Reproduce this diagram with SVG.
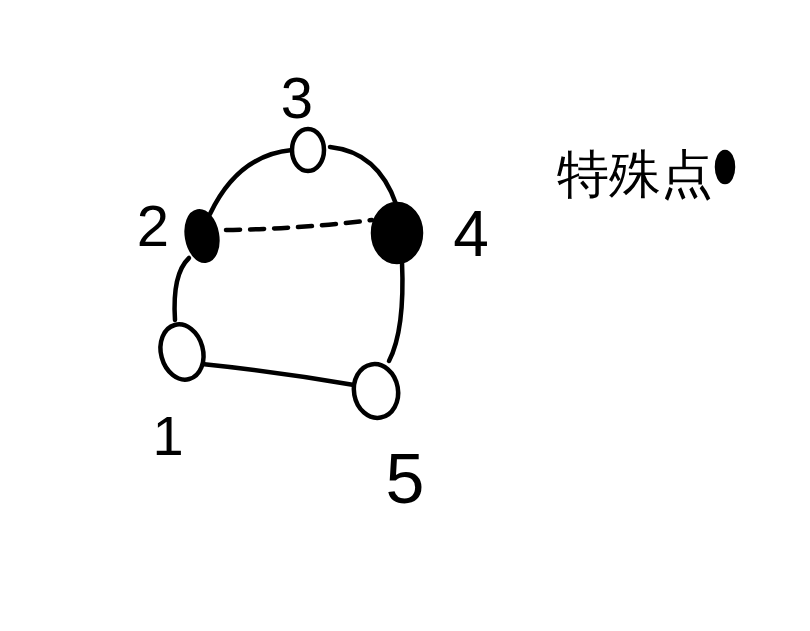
<svg xmlns="http://www.w3.org/2000/svg" width="810" height="631" viewBox="0 0 810 631">
<style>
.e{fill:none;stroke:#000;stroke-width:4.5;stroke-linecap:round}
.n{fill:#fff;stroke:#000;stroke-width:4.5}
.f{fill:#000;stroke:#000;stroke-width:4.5}
.t{font-family:"Liberation Sans","DejaVu Sans",sans-serif;fill:#000;text-anchor:middle}
</style>
<rect width="810" height="631" fill="#fff"/>
<g id="connectors">
<path class="e" d="M210,214 Q238,155 292,150"/>
<path class="e" d="M330,147 Q378,152 396,204"/>
<path class="e" d="M226,230 Q300,229 372,220" stroke-dasharray="14 10"/>
<path class="e" d="M189,258 Q172,274 175,320"/>
<path class="e" d="M202,364 Q280,372 354,385"/>
<path class="e" d="M389,361 Q405,330 402,262"/>
</g>
<g id="node1"><ellipse class="n" cx="182" cy="352" rx="21" ry="28" transform="rotate(-15 182 352)"/><text class="t" x="168" y="455" font-size="56">1</text></g>
<g id="node2"><ellipse class="f" cx="202" cy="236" rx="15" ry="25" transform="rotate(-10 202 236)"/><text class="t" x="153" y="246" font-size="58">2</text></g>
<g id="node3"><ellipse class="n" cx="308" cy="150" rx="16" ry="21"/><text class="t" x="297" y="118" font-size="58">3</text></g>
<g id="node4"><ellipse class="f" cx="397" cy="233" rx="24" ry="29"/><text class="t" x="471" y="256" font-size="64">4</text></g>
<g id="node5"><ellipse class="n" cx="376" cy="391" rx="22" ry="27" transform="rotate(-10 376 391)"/><text class="t" x="405" y="503" font-size="70">5</text></g>
<g id="legend"><text class="t" x="635" y="192" font-size="52" font-family="'Noto Sans CJK SC',sans-serif">特殊点</text><ellipse class="f" cx="725" cy="167" rx="8" ry="15"/></g>
</svg>
